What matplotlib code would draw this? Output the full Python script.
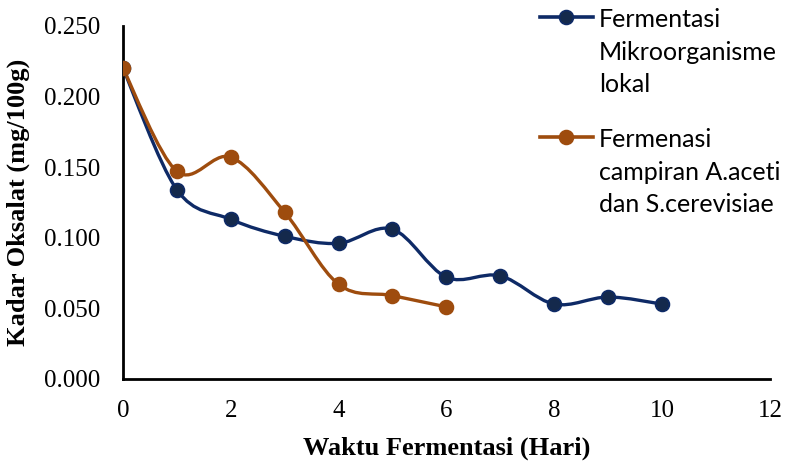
import numpy as np
import matplotlib
matplotlib.use('Agg')
import matplotlib.pyplot as plt
from matplotlib.path import Path
from matplotlib.patches import PathPatch
from matplotlib.lines import Line2D

# data
hari_mol = [0, 1, 2, 3, 4, 5, 6, 7, 8, 9, 10]
kadar_mol = [0.220, 0.134, 0.113, 0.101, 0.096, 0.106, 0.072, 0.073, 0.053, 0.058, 0.053]
hari_campuran = [0, 1, 2, 3, 4, 5, 6]
kadar_campuran = [0.220, 0.147, 0.157, 0.118, 0.067, 0.059, 0.051]

label_mol = 'Fermentasi\nMikroorganisme\nlokal'
label_campuran = 'Fermenasi\ncampiran A.aceti\ndan S.cerevisiae'
x_ticks = [0, 2, 4, 6, 8, 10, 12]
y_ticks = [0.000, 0.050, 0.100, 0.150, 0.200, 0.250]

navy = '#0E2A66'
navy_face = '#14294C'
brown = '#9E4C0E'
W, H = 788, 461


def smooth_path(x, y):
    # bezier segments like Excel's "smoothed line"
    pts = np.column_stack([x, y]).astype(float)
    n = len(pts)
    verts = [pts[0]]
    codes = [Path.MOVETO]
    for i in range(n - 1):
        p0 = pts[max(i - 1, 0)]
        p1 = pts[i]
        p2 = pts[i + 1]
        p3 = pts[min(i + 2, n - 1)]
        verts += [p1 + (p2 - p0) / 6, p2 - (p3 - p1) / 6, p2]
        codes += [Path.CURVE4] * 3
    return Path(verts, codes)


fig = plt.figure(figsize=(W / 100, H / 100), dpi=100)
ax = fig.add_axes([0.156, 0.178, 0.821, 0.766])

for x, y, c, face in [(hari_mol, kadar_mol, navy, navy_face),
                      (hari_campuran, kadar_campuran, brown, brown)]:
    ax.add_patch(PathPatch(smooth_path(x, y), fill=False, edgecolor=c, lw=2.4,
                           capstyle='round', joinstyle='round', zorder=2))
    ax.plot(x, y, 'o', ms=10, mfc=face, mec=c, mew=1.2, zorder=3)

ax.set_xlim(0, 12)
ax.set_ylim(0, 0.25)
ax.set_xticks(x_ticks)
ax.set_yticks(y_ticks)
ax.set_yticklabels(['%.3f' % v for v in y_ticks])
for s in ['top', 'right']:
    ax.spines[s].set_visible(False)
for s in ['left', 'bottom']:
    ax.spines[s].set_linewidth(2)
    ax.spines[s].set_color('black')
ax.tick_params(length=0, labelsize=18)
ax.tick_params(axis='y', pad=16)
ax.tick_params(axis='x', pad=15)
for t in ax.get_xticklabels() + ax.get_yticklabels():
    t.set_fontfamily('Liberation Serif')

ax.set_xlabel('Waktu Fermentasi (Hari)', fontfamily='Liberation Serif',
              fontweight='bold', fontsize=19, va='center')
ax.set_ylabel('Kadar Oksalat (mg/100g)', fontfamily='Liberation Serif',
              fontweight='bold', fontsize=19, va='center')
ax.xaxis.set_label_coords(0.5, -0.195)
ax.yaxis.set_label_coords(-0.162, 0.5)

# legend drawn by hand so the handle sits on the first text line
entries = [(label_mol, navy, navy_face, 17, 27),
           (label_campuran, brown, brown, 137, 147)]
for label, c, face, hy, base in entries:
    fig.add_artist(Line2D([540 / W, 593 / W], [1 - hy / H, 1 - hy / H],
                          transform=fig.transFigure, color=c, lw=2.6))
    fig.add_artist(Line2D([566 / W], [1 - hy / H], transform=fig.transFigure,
                          marker='o', ms=10, mfc=face, mec=c, mew=1.2))
    for k, line in enumerate(label.split('\n')):
        fig.text(599 / W, 1 - (base + 32.5 * k) / H, line, fontfamily='Lato',
                 fontsize=18, va='baseline', ha='left')

fig.savefig('out.png', dpi=100)
